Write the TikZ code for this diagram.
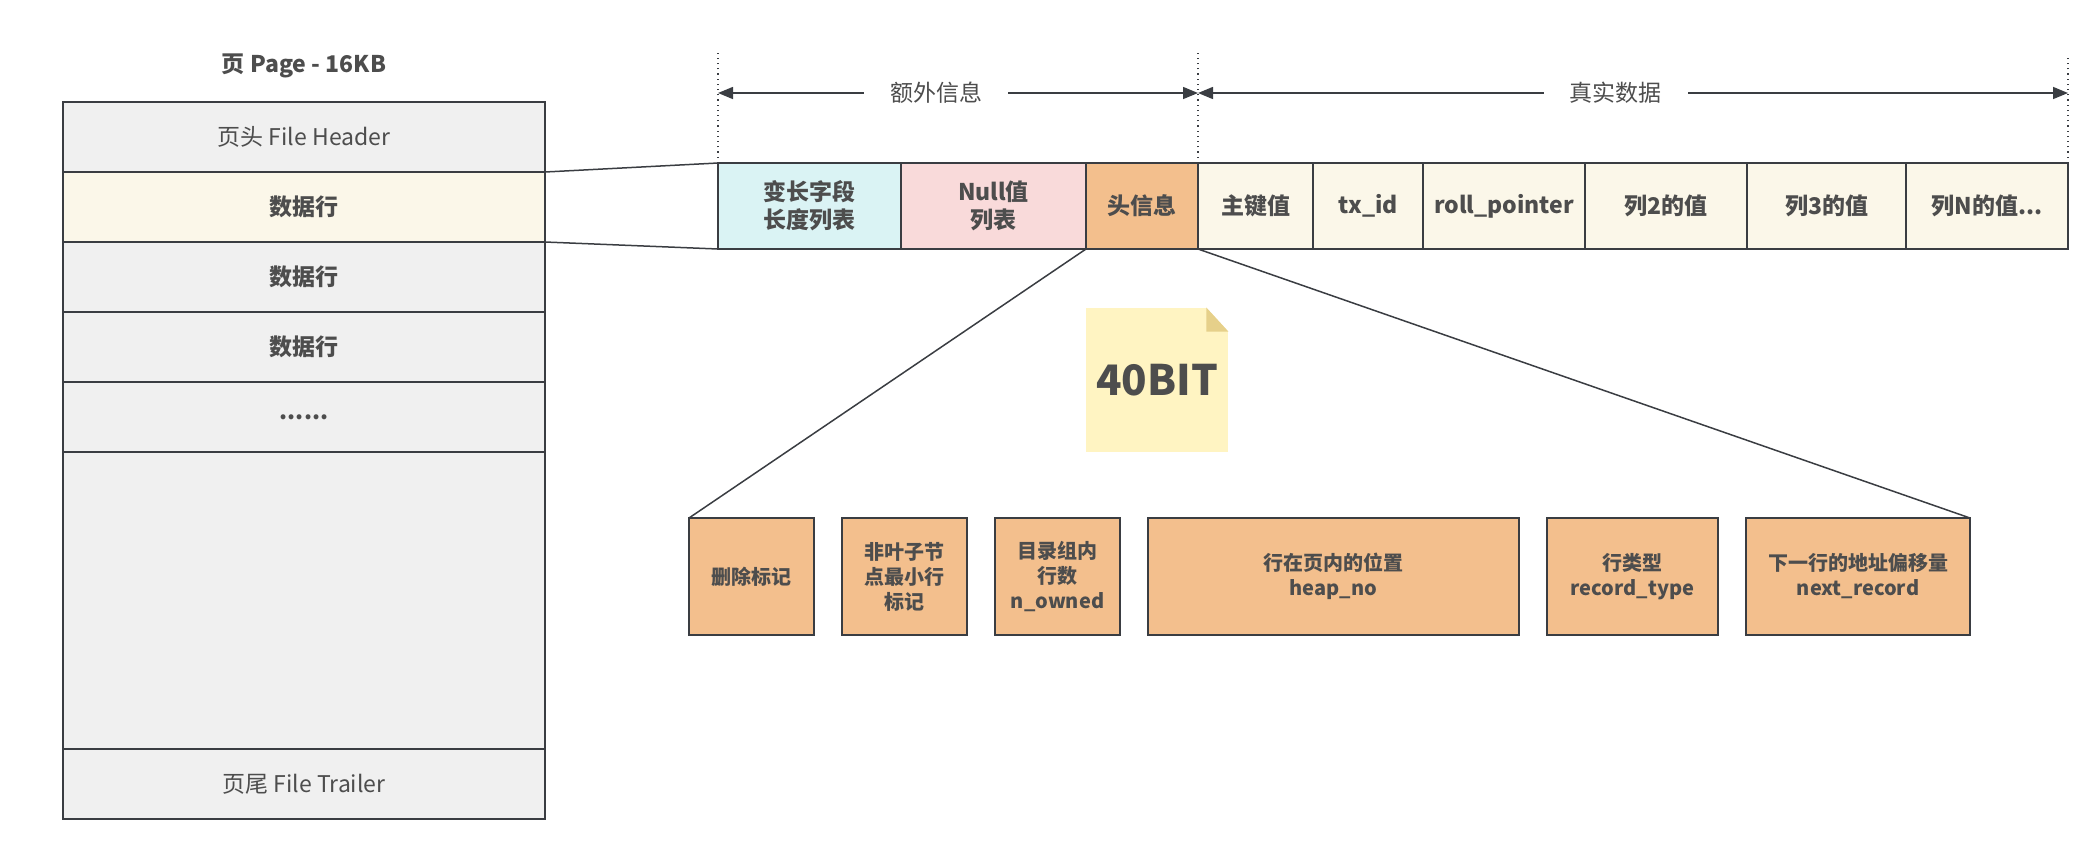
\documentclass[tikz,border=0pt]{standalone}
\usepackage{fontspec}
\setmainfont{Noto Sans CJK SC}
\usetikzlibrary{arrows.meta,positioning,calc}
\definecolor{Ink}{HTML}{3A3D42}
\definecolor{Txt}{HTML}{4D4D4D}
\definecolor{PageGray}{HTML}{F0F0F0}
\definecolor{Cream}{HTML}{FBF7E9}
\definecolor{SoftCyan}{HTML}{DAF3F4}
\definecolor{SoftPink}{HTML}{F9DADA}
\definecolor{Orange}{HTML}{F3BF8D}
\definecolor{NoteYellow}{HTML}{FFF4C2}
\definecolor{NoteFold}{HTML}{E6D08A}

\begin{document}
\begin{tikzpicture}[x=0.5pt,y=-0.5pt,
    pagerow/.style={rectangle,draw=Ink,line width=1pt,fill=PageGray,minimum width=241pt,minimum height=35pt,outer sep=0pt,inner sep=0pt,text=Txt,font=\fontsize{11.5}{14}\selectfont},
    pagebold/.style={pagerow,font=\fontsize{11.5}{14}\selectfont\bfseries},
    field/.style={rectangle,draw=Ink,line width=1pt,fill=Cream,minimum height=43pt,outer sep=0pt,inner sep=0pt,text=Txt,align=center,font=\fontsize{11.5}{14}\selectfont\bfseries},
    bit/.style={rectangle,draw=Ink,line width=1pt,fill=Orange,minimum height=58.5pt,outer sep=0pt,inner sep=0pt,text=Txt,align=center,font=\fontsize{10}{12.5}\selectfont\bfseries},
    notebox/.style={rectangle,fill=NoteYellow,minimum width=71pt,minimum height=72pt,text=Txt,font=\fontsize{21}{24}\selectfont\bfseries},
    link/.style={draw=Ink,line width=0.75pt},
    dimspan/.style={{Triangle[length=7.5pt,width=6pt]}-{Triangle[length=7.5pt,width=6pt]},draw=Ink,line width=0.75pt},
    spanlabel/.style={fill=white,inner xsep=13pt,text=Txt,font=\fontsize{11.5}{14}\selectfont},
    guide/.style={draw=Ink,dotted,line width=0.6pt}
]
\useasboundingbox (0,0) rectangle (2099,858);

% page
\node[font=\fontsize{11.5}{14}\selectfont\bfseries,text=Txt] (title) at (304,66) {页 Page - 16KB};
\node[pagerow,anchor=north west] (hdr) at (63,102) {页头 File Header};
\node[pagebold,fill=Cream,below=0pt of hdr] (row1) {数据行};
\node[pagebold,below=0pt of row1] (row2) {数据行};
\node[pagebold,below=0pt of row2] (row3) {数据行};
\node[pagebold,below=0pt of row3] (more) {......};
\node[pagerow,below=0pt of more,minimum height=148.5pt] (free) {};
\node[pagerow,below=0pt of free] (trailer) {页尾 File Trailer};

% one row
\node[field,fill=SoftCyan,minimum width=91.5pt,anchor=north west] (varlen) at (718,163) {变长字段\\长度列表};
\node[field,fill=SoftPink,minimum width=92.5pt,right=0pt of varlen] (nulls) {Null值\\列表};
\node[field,fill=Orange,minimum width=56pt,right=0pt of nulls] (hinfo) {头信息};
\node[field,minimum width=57.5pt,right=0pt of hinfo] (pkey) {主键值};
\node[field,minimum width=55pt,right=0pt of pkey] (txid) {tx\_id};
\node[field,minimum width=81pt,right=0pt of txid] (rollptr) {roll\_pointer};
\node[field,minimum width=81pt,right=0pt of rollptr] (col2) {列2的值};
\node[field,minimum width=79.5pt,right=0pt of col2] (col3) {列3的值};
\node[field,minimum width=81pt,right=0pt of col3] (colN) {列N的值...};

\draw[link] (row1.north east) -- (varlen.north west);
\draw[link] (row1.south east) -- (varlen.south west);

% extra info / real data
\coordinate (gtop) at (0,50);
\coordinate (gtop2) at (0,55);
\coordinate (aline) at (0,93);
\coordinate (g1) at (varlen.north west |- gtop);
\coordinate (g2) at (pkey.north west |- gtop);
\coordinate (g3) at (colN.north east |- gtop2);
\coordinate (a1) at (varlen.north west |- aline);
\coordinate (a2) at (pkey.north west |- aline);
\coordinate (a3) at (colN.north east |- aline);
\draw[guide] (varlen.north west) -- (g1);
\draw[guide] (pkey.north west) -- (g2);
\draw[guide] (colN.north east) -- (g3);
\draw[dimspan] (a1) -- (a2) node[spanlabel,pos=0.455] (extra) {额外信息};
\draw[dimspan] (a2) -- (a3) node[spanlabel,pos=0.48] (real) {真实数据};

% header bits
\node[notebox] (note) at (1157,380) {40BIT};
\fill[white] (note.north east) -- ([xshift=-11pt]note.north east) -- ([yshift=-12pt]note.north east) -- cycle;
\fill[NoteFold] ([xshift=-11pt]note.north east) -- ([xshift=-11pt,yshift=-12pt]note.north east) -- ([yshift=-12pt]note.north east) -- cycle;

\node[bit,minimum width=62.5pt,anchor=north west] (delmark) at (689,518) {删除标记};
\node[bit,minimum width=62.5pt,right=14pt of delmark] (minrec) {非叶子节\\点最小行\\标记};
\node[bit,minimum width=62.5pt,right=14pt of minrec] (nowned) {目录组内\\行数\\n\_owned};
\node[bit,minimum width=185.5pt,right=14pt of nowned] (heapno) {行在页内的位置\\heap\_no};
\node[bit,minimum width=85.5pt,right=14pt of heapno] (rtype) {行类型\\record\_type};
\node[bit,minimum width=112pt,right=14pt of rtype] (nextrec) {下一行的地址偏移量\\next\_record};

\draw[link] (hinfo.south west) -- (delmark.north west);
\draw[link] (hinfo.south east) -- (nextrec.north east);
\end{tikzpicture}
\end{document}
